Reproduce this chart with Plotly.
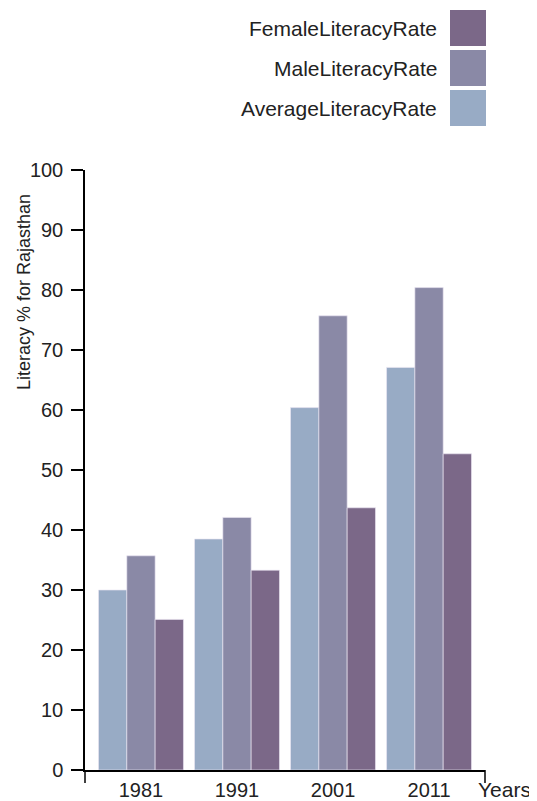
import plotly.graph_objects as go

# ---- data ----
years = ["1981", "1991", "2001", "2011"]
average_rate = [30.0, 38.5, 60.4, 67.1]
male_rate = [35.7, 42.1, 75.7, 80.4]
female_rate = [25.1, 33.3, 43.7, 52.7]

series_names = ["AverageLiteracyRate", "MaleLiteracyRate", "FemaleLiteracyRate"]
series_values = [average_rate, male_rate, female_rate]
series_colors = ["#98abc5", "#8a89a6", "#7b6888"]
legend_order = ["FemaleLiteracyRate", "MaleLiteracyRate", "AverageLiteracyRate"]

y_ticks = [0, 10, 20, 30, 40, 50, 60, 70, 80, 90, 100]
y_title = "Literacy % for Rajasthan"
x_title = "Years"

# ---- layout geometry (page pixels; page body has an 8px margin) ----
OFF = 8
W, H = 537 - OFF, 801 - OFF
L, R, T, B = 85, 485, 170, 770          # plot area in page pixels
PW, PH = R - L, B - T


def px_x(x):
    return (x - L) / PW


def px_y(y):
    return (B - y) / PH


FONT = "Liberation Sans, Arial, sans-serif"
TXT = "#222222"

fig = go.Figure()
for name, vals, col in zip(series_names, series_values, series_colors):
    fig.add_trace(go.Bar(
        x=years, y=vals, name=name,
        marker=dict(color=col, line=dict(color="rgba(235,230,242,0.8)", width=0.8)),
        showlegend=False,
    ))

# custom legend (text to the left of swatches)
for i, name in enumerate(legend_order):
    col = series_colors[series_names.index(name)]
    top = 10 + 40 * i
    fig.add_shape(type="rect", xref="paper", yref="paper",
                  x0=px_x(450), x1=px_x(486), y0=px_y(top), y1=px_y(top + 36),
                  fillcolor=col, line=dict(width=0))
    fig.add_annotation(xref="paper", yref="paper", x=px_x(439), y=px_y(top + 18),
                       text=name, showarrow=False, xanchor="right", yanchor="middle",
                       font=dict(family=FONT, size=21, color=TXT))

# y-axis title
fig.add_annotation(xref="paper", yref="paper", x=px_x(24), y=px_y(292),
                   text=y_title, textangle=-90, showarrow=False,
                   xanchor="center", yanchor="middle",
                   font=dict(family=FONT, size=18, color=TXT))
# x-axis label
fig.add_annotation(xref="paper", yref="paper", x=px_x(476), y=px_y(789),
                   text=x_title, showarrow=False, xanchor="left", yanchor="middle",
                   font=dict(family=FONT, size=21, color=TXT))

# outer ticks of x-axis domain
for xp in (0, 1):
    fig.add_shape(type="line", xref="paper", yref="paper",
                  x0=xp, x1=xp, y0=0, y1=px_y(B + 13),
                  line=dict(color="black", width=1.5))

fig.update_layout(
    width=W, height=H,
    margin=dict(l=L - OFF, r=(W + OFF) - R, t=T - OFF, b=(H + OFF) - B, pad=0),
    plot_bgcolor="white", paper_bgcolor="white",
    barmode="group", bargap=0.115, bargroupgap=0,
    font=dict(family=FONT, color=TXT),
    xaxis=dict(
        type="category", range=[-0.583, 3.583], automargin=False,
        showline=True, linecolor="black", linewidth=1.5,
        ticks="outside", ticklen=1, tickcolor="rgba(0,0,0,0)",
        tickfont=dict(family=FONT, size=20, color=TXT),
        showgrid=False, zeroline=False, fixedrange=True,
    ),
    yaxis=dict(
        range=[0, 100], tickvals=y_ticks, automargin=False,
        showline=True, linecolor="black", linewidth=1.5,
        ticks="outside", ticklen=12, tickwidth=1.5, tickcolor="black",
        ticklabelstandoff=4,
        tickfont=dict(family=FONT, size=20, color=TXT),
        showgrid=False, zeroline=False, fixedrange=True,
    ),
)

fig.write_html("out.html")
